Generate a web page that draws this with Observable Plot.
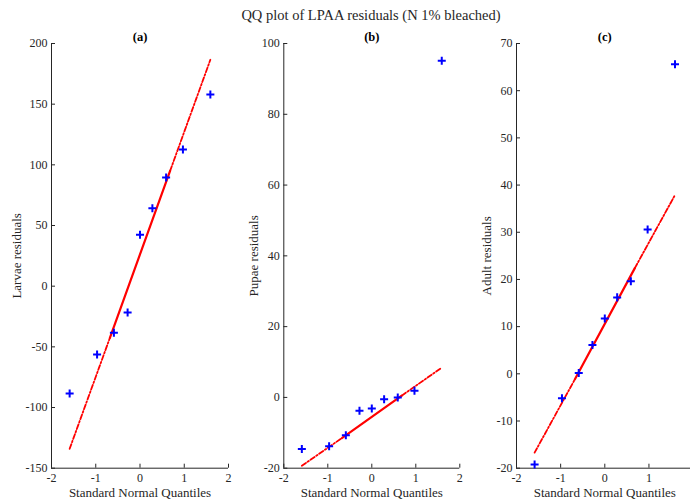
<!DOCTYPE html>
<html>
<head>
<meta charset="utf-8">
<script src="https://cdn.jsdelivr.net/npm/d3@7"></script>
<script src="https://cdn.jsdelivr.net/npm/@observablehq/plot@0.6"></script>
<style>
  html, body { margin: 0; padding: 0; background: #fff; overflow: hidden; }
  #fig { position: relative; width: 690px; height: 504px; overflow: hidden; }
  #fig > div.panel { position: absolute; top: 0; width: 240px; }
  #fig svg { max-width: none !important; font-family: "Liberation Serif", serif !important; }
  #title { position: absolute; top: 7px; left: 0; width: 742px; text-align: center;
           font-family: "Liberation Serif", serif; font-size: 14.5px; color: #262626; }
</style>
</head>
<body>
<div id="fig"><div id="title"></div></div>
<script>
const title = "QQ plot of LPAA residuals (N 1% bleached)";
const xLabel = "Standard Normal Quantiles";
const xTicks = [-2, -1, 0, 1, 2];

// theoretical quantiles (x positions of the points)
const quantiles = [-1.59, -0.97, -0.59, -0.28, 0, 0.28, 0.59, 0.97, 1.59];

// residuals
const larvae = [-88.4, -56.3, -38.4, -21.7, 42.3, 64.3, 89.6, 112.6, 158];
const pupae  = [-14.6, -13.8, -10.7, -3.8, -3.1, -0.5, 0.0, 1.9, 95.1];
const adult  = [-19.2, -5.2, 0.2, 6.1, 11.7, 16.2, 19.6, 30.6, 65.6];

// reference lines: ends of dashed part and ends of solid (quartile) part
const fitX       = [-1.59, -0.68, 0.68, 1.59];
const fitLarvae  = [-134, -42.5, 95, 186.6];
const fitPupae   = [-19.3, -11.5, 0.5, 8.4];
const fitAdult   = [-16.7, -1.2, 22.4, 37.9];

const ticksLarvae = [-150, -100, -50, 0, 50, 100, 150, 200];
const ticksPupae  = [-20, 0, 20, 40, 60, 80, 100];
const ticksAdult  = [-20, -10, 0, 10, 20, 30, 40, 50, 60, 70];

const panelNames = ["(a)", "(b)", "(c)"];
const yLabels = ["Larvae residuals", "Pupae residuals", "Adult residuals"];

const ink = "#262626";
const serif = "Liberation Serif";

function panel({left, width, ml, mr, yTicks, values, fit, sub, ylab, ylabOffset}) {
  const pts = quantiles.map((q, i) => ({q, v: values[i]}));
  const fl = fitX.map((x, i) => ({x, y: fit[i]}));
  const plot = Plot.plot({
    width, height: 504,
    marginLeft: ml, marginRight: mr, marginTop: 43, marginBottom: 36.3,
    x: {domain: [xTicks[0], xTicks[xTicks.length - 1]]},
    y: {domain: [yTicks[0], yTicks[yTicks.length - 1]]},
    style: {fontFamily: serif, fontSize: "12px", color: ink, background: "transparent", overflow: "visible"},
    marks: [
      Plot.ruleX([xTicks[0]], {stroke: ink, strokeWidth: 1}),
      Plot.ruleY([yTicks[0]], {stroke: ink, strokeWidth: 1}),
      Plot.axisX({ticks: xTicks, tickSize: -4, tickPadding: 9, label: null, stroke: ink, fill: ink, fontFamily: serif, fontSize: 12, tickFormat: d => String(d)}),
      Plot.axisY({ticks: yTicks, tickSize: -4, tickPadding: 8, label: null, stroke: ink, fill: ink, fontFamily: serif, fontSize: 12, tickFormat: d => String(d)}),
      Plot.line(fl.slice(0, 2), {x: "x", y: "y", stroke: "#ff0000", strokeWidth: 1.8, strokeDasharray: "5,2,1.5,2"}),
      Plot.line(fl.slice(2, 4), {x: "x", y: "y", stroke: "#ff0000", strokeWidth: 1.8, strokeDasharray: "5,2,1.5,2"}),
      Plot.line(fl.slice(1, 3), {x: "x", y: "y", stroke: "#ff0000", strokeWidth: 2.2}),
      Plot.dot(pts, {x: "q", y: "v", symbol: "plus", stroke: "#0000ff", strokeWidth: 2, r: 2.7}),
      Plot.text([sub], {frameAnchor: "top", lineAnchor: "bottom", dy: -3, text: d => d, fontWeight: "bold", fill: "#000", fontFamily: serif, fontSize: 12.5}),
      Plot.text([xLabel], {frameAnchor: "bottom", lineAnchor: "middle", dy: 25, text: d => d, fill: ink, fontFamily: serif, fontSize: 13}),
      Plot.text([ylab], {frameAnchor: "left", textAnchor: "middle", lineAnchor: "middle", rotate: -90, dx: -ylabOffset, text: d => d, fill: ink, fontFamily: serif, fontSize: 13})
    ]
  });
  const wrap = document.createElement("div");
  wrap.className = "panel";
  wrap.style.left = left + "px";
  wrap.appendChild(plot);
  document.getElementById("fig").appendChild(wrap);
}

document.getElementById("title").textContent = title;

panel({left: 0,   width: 235, ml: 51,   mr: 7,   yTicks: ticksLarvae, values: larvae, fit: fitLarvae, sub: panelNames[0], ylab: yLabels[0], ylabOffset: 34.5});
panel({left: 235, width: 228, ml: 48.3, mr: 3.7, yTicks: ticksPupae,  values: pupae,  fit: fitPupae,  sub: panelNames[1], ylab: yLabels[1], ylabOffset: 30});
panel({left: 463, width: 235, ml: 53,   mr: 5.4, yTicks: ticksAdult,  values: adult,  fit: fitAdult,  sub: panelNames[2], ylab: yLabels[2], ylabOffset: 29.5});
</script>
</body>
</html>
